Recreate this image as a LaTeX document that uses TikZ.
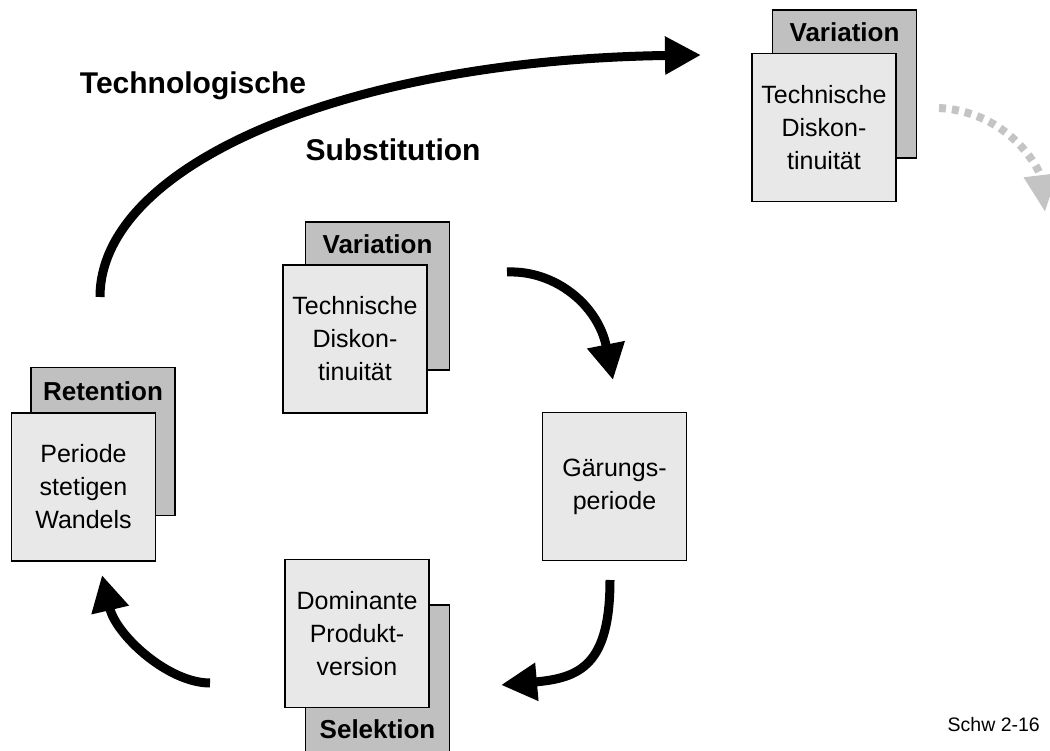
\documentclass[tikz,border=0pt]{standalone}
\usepackage{fontspec}
\setmainfont{Liberation Sans}
\usetikzlibrary{arrows.meta}
\definecolor{backgray}{RGB}{192,192,192}
\definecolor{frontgray}{RGB}{232,232,232}
\definecolor{ghostgray}{RGB}{196,196,196}
\begin{document}
\begin{tikzpicture}[x=1pt,y=-1pt,
  card/.style={draw=black, line width=1.8pt, minimum width=144pt, minimum height=148pt,
    inner sep=0pt, align=center, font=\fontsize{25}{33}\selectfont},
  backcard/.style={card, fill=backgray},
  frontcard/.style={card, fill=frontgray},
  tag/.style={font=\fontsize{26}{30}\selectfont\bfseries, inner sep=0pt},
  headline/.style={font=\fontsize{30}{36}\selectfont\bfseries, inner sep=0pt, anchor=base},
  cycle/.style={line width=9pt, -{Triangle[length=36pt,width=36pt]}},
  ghost/.style={line width=8pt, draw=ghostgray, dash pattern=on 7pt off 6pt,
    -{Triangle[length=37pt,width=32pt,fill=ghostgray]}}
]
\path[use as bounding box] (0,0) rectangle (1050,751);

% stacked cards: grey back card with bold tag, light front card with description
\node[backcard] (varBackA) at (844.5,84) {};
\node[frontcard] (varFrontA) at (824,127.5) {Technische\\Diskon-\\tinuität};
\node[tag] (varTagA) at (844.5,32) {Variation};

\node[backcard] (varBackB) at (377.5,296) {};
\node[frontcard] (varFrontB) at (355,339) {Technische\\Diskon-\\tinuität};
\node[tag] (varTagB) at (377.5,244) {Variation};

\node[backcard] (retBack) at (103,441.5) {};
\node[frontcard] (retFront) at (83.5,487) {Periode\\stetigen\\Wandels};
\node[tag] (retTag) at (103,391) {Retention};

\node[backcard, minimum height=154pt] (selBack) at (377.5,682) {};
\node[frontcard] (selFront) at (357,633.5) {Dominante\\Produkt-\\version};
\node[tag] (selTag) at (377.5,729) {Selektion};

\node[frontcard] (gaer) at (614.5,486.5) {Gärungs-\\periode};

% headings and reference mark
\node[headline] (tech) at (193,94) {Technologische};
\node[headline] (subst) at (393,161) {Substitution};
\node[font=\fontsize{19.5}{22}\selectfont, anchor=base east, inner sep=0pt] (mark) at (1040,731) {Schw 2-16};

% arrow end points
\coordinate (subStart) at (100,297);
\coordinate (subEnd) at (701,55);
\coordinate (c1s) at (507,272);
\coordinate (c1e) at (613,380);
\coordinate (c2s) at (610,580);
\coordinate (c2e) at (501,685);
\coordinate (c3s) at (210,683);
\coordinate (c3e) at (102,575);
\coordinate (gs) at (939,108);
\coordinate (ge) at (1045,212);

% substitution arc and cycle arrows
\draw[cycle] (subStart) .. controls (100,165) and (345,60) .. (subEnd);
\draw[cycle] (c1s) .. controls (555,270) and (598,305) .. (c1e);
\draw[cycle] (c2s) .. controls (610,665) and (580,678) .. (c2e);
\draw[cycle] (c3s) .. controls (168,683) and (116,635) .. (c3e);
\draw[ghost] (gs) .. controls (1010,112) and (1040,170) .. (ge);
\end{tikzpicture}
\end{document}
